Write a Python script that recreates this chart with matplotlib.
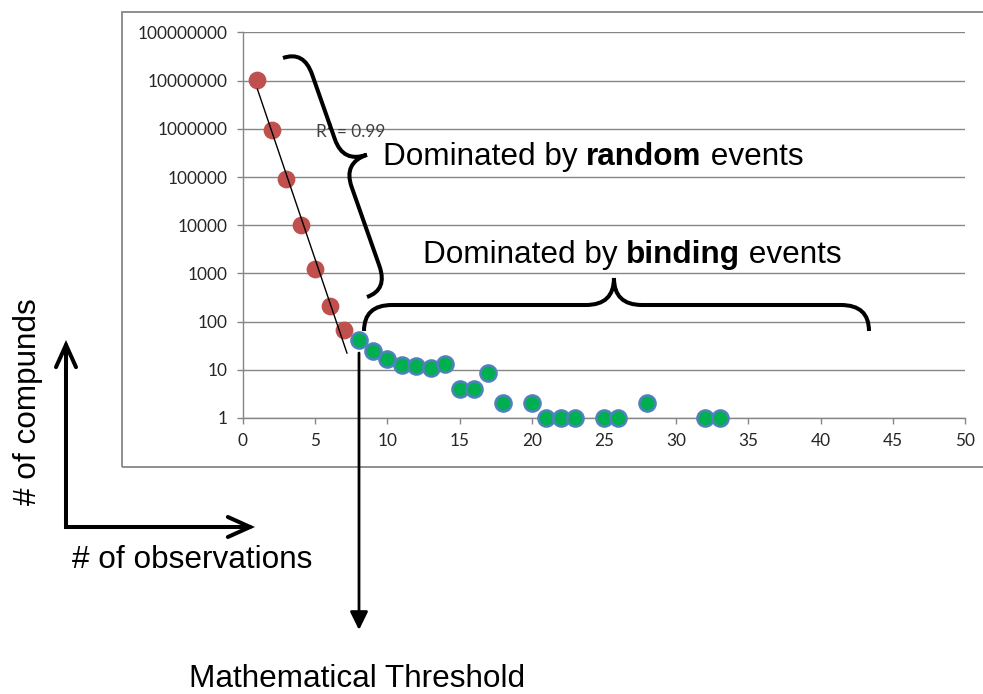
import numpy as np
import matplotlib
matplotlib.use("Agg")
import matplotlib.pyplot as plt
from matplotlib.path import Path
from matplotlib.patches import PathPatch, Rectangle, FancyArrowPatch
from matplotlib.ticker import FixedLocator, FixedFormatter, NullLocator

W, H = 983, 694

# data
red_x = [1, 2, 3, 4, 5, 6, 7]
red_y = [10300000, 950000, 92000, 10000, 1250, 210, 68]
green_x = [8, 9, 10, 11, 12, 13, 14, 15, 16, 17, 18, 20, 21, 22, 23, 25, 26, 28, 32, 33]
green_y = [42, 24, 17, 12.5, 12, 10.7, 13.5, 4, 4, 8.7, 2, 2, 1, 1, 1, 1, 1, 2, 1, 1]
trend_end = 7.2
r2_label = "R² = 0.99"

x_ticks = [0, 5, 10, 15, 20, 25, 30, 35, 40, 45, 50]
y_ticks = [1, 10, 100, 1000, 10000, 100000, 1000000, 10000000, 100000000]
y_tick_labels = [str(v) for v in y_ticks]

BIG = 22.7
ARIAL = "Liberation Sans"


def px(x, y):
    # pixel coords (origin top-left) -> figure fraction
    return (x / W, 1 - y / H)


fig = plt.figure(figsize=(W / 100, H / 100), dpi=100)

# Excel chart frame
fig.add_artist(Rectangle(px(122, 467), (W + 5 - 122) / W, (467 - 11.5) / H,
                         fill=False, ec="#868686", lw=1.3, transform=fig.transFigure))

ax = fig.add_axes([243 / W, 1 - 418 / H, (965 - 243) / W, (418 - 32.4) / H])
ax.set_xlim(0, 50)
ax.set_yscale("log")
ax.set_ylim(1, 1e8)
ax.xaxis.set_major_locator(FixedLocator(x_ticks))
ax.yaxis.set_major_locator(FixedLocator(y_ticks))
ax.yaxis.set_major_formatter(FixedFormatter(y_tick_labels))
ax.yaxis.set_minor_locator(NullLocator())
ax.yaxis.grid(True, color="#868686", lw=1.0)
ax.set_axisbelow(True)
for s in ["top", "right"]:
    ax.spines[s].set_visible(False)
for s in ["left", "bottom"]:
    ax.spines[s].set_color("#868686")
    ax.spines[s].set_linewidth(1.0)
ax.tick_params(direction="out", length=4, width=1, color="#868686",
               labelsize=12.4, labelcolor="#262626", pad=7)
for lab in ax.get_xticklabels() + ax.get_yticklabels():
    lab.set_family("Lato")

ax.plot(red_x, red_y, "o", ms=12.8, color="#C0504D", mew=0, clip_on=False, zorder=3)
ax.plot(green_x, green_y, "o", ms=11.6, mfc="#00B050", mec="#4F81BD", mew=1.8,
        clip_on=False, zorder=3)

# exponential trendline over the red points
coef = np.polyfit(red_x, np.log10(red_y), 1)
tx = np.linspace(red_x[0], trend_end, 50)
ax.plot(tx, 10 ** np.polyval(coef, tx), color="black", lw=1.0, zorder=4, clip_on=False)

fig.text(*px(316, 137), r2_label, fontsize=12.4, family="Lato", color="#404040", va="baseline")


def brace(p0, p1, depth, arm, r, tip=0.5, lw=2.9):
    p0 = np.array(p0, float)
    p1 = np.array(p1, float)
    a = p1 - p0
    L = np.hypot(*a)
    a /= L
    n = np.array([a[1], -a[0]])
    t = tip * L
    local = [(0, 0), (0, arm), (r, arm), (t - r, arm), (t, arm), (t, depth),
             (t, arm), (t + r, arm), (L - r, arm), (L, arm), (L, 0)]
    codes = [Path.MOVETO, Path.CURVE3, Path.CURVE3, Path.LINETO, Path.CURVE3, Path.CURVE3,
             Path.CURVE3, Path.CURVE3, Path.LINETO, Path.CURVE3, Path.CURVE3]
    pts = [px(*(p0 + u * a + v * n)) for u, v in local]
    fig.add_artist(PathPatch(Path(pts, codes), fill=False, lw=lw, ec="black",
                             transform=fig.transFigure, zorder=5))


brace((283, 58), (367, 297), depth=47, arm=22, r=25, tip=0.47)
brace((364, 331), (869, 331), depth=53, arm=26, r=28, tip=0.495)


def rich_text(x, y, parts):
    renderer = fig.canvas.get_renderer()
    for s, w in parts:
        t = fig.text(*px(x, y), s, fontsize=BIG, fontweight=w, family=ARIAL, va="baseline")
        x += t.get_window_extent(renderer).width


rich_text(383, 165, [("Dominated by ", "normal"), ("random", "bold"), (" events", "normal")])
rich_text(423, 263, [("Dominated by ", "normal"), ("binding", "bold"), (" events", "normal")])

fig.text(*px(72, 568), "# of observations", fontsize=BIG, family=ARIAL, va="baseline")
fig.text(*px(189, 687), "Mathematical Threshold", fontsize=BIG, family=ARIAL, va="baseline")
fig.text(*px(28, 402), "# of compunds", fontsize=BIG, family=ARIAL, rotation=90,
         ha="center", va="center")

# L-shaped axis arrows
corner = Path([px(66, 340), px(66, 527), px(255, 527)])
fig.add_artist(FancyArrowPatch(path=corner, arrowstyle="<->,head_length=0.8,head_width=0.36",
                               mutation_scale=20, lw=2.9, color="black",
                               transform=fig.transFigure, joinstyle="miter"))

# threshold arrow
fig.add_artist(FancyArrowPatch(px(359, 353), px(359, 630),
                               arrowstyle="-|>,head_length=0.55,head_width=0.27",
                               mutation_scale=20, lw=2.0, color="black",
                               shrinkA=0, shrinkB=0, transform=fig.transFigure))

fig.savefig("out.png", dpi=100)
